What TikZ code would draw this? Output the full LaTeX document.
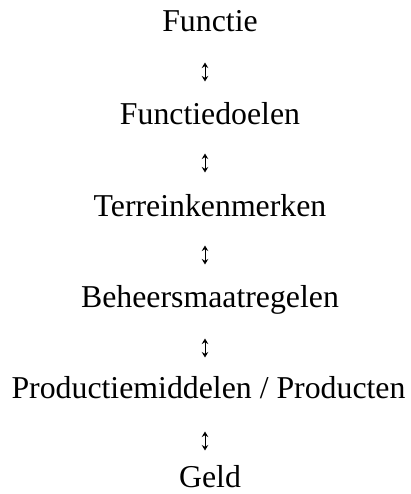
\documentclass[tikz,border=0pt]{standalone}
\usepackage{fontspec}
\setmainfont{Liberation Serif}
\usetikzlibrary{arrows.meta}
\begin{document}
\begin{tikzpicture}[x=1pt,y=1pt,
  lbl/.style={anchor=base,inner sep=0pt,font=\fontsize{31.8}{36}\selectfont},
  updown/.style={line width=1pt,{Stealth[length=5.5pt,width=6.5pt]}-{Stealth[length=5.5pt,width=6.5pt]}}]
\useasboundingbox (0,0) rectangle (411,-494);
\node[lbl] (n1) at (210,-32) {Functie};
\node[lbl] (n2) at (210,-124.5) {Functiedoelen};
\node[lbl] (n3) at (210,-216.5) {Terreinkenmerken};
\node[lbl] (n4) at (210,-307.5) {Beheersmaatregelen};
\node[lbl] (n5) at (208.5,-398.5) {Productiemiddelen / Producten};
\node[lbl] (n6) at (210,-487.5) {Geld};
\foreach \i/\y in {1/72,2/163,3/255,4/348,5/441}{
  \coordinate (a\i t) at (205,-\y+9.5);
  \coordinate (a\i b) at (205,-\y-9.5);
  \draw[updown] (a\i t) -- (a\i b);
}
\end{tikzpicture}
\end{document}
